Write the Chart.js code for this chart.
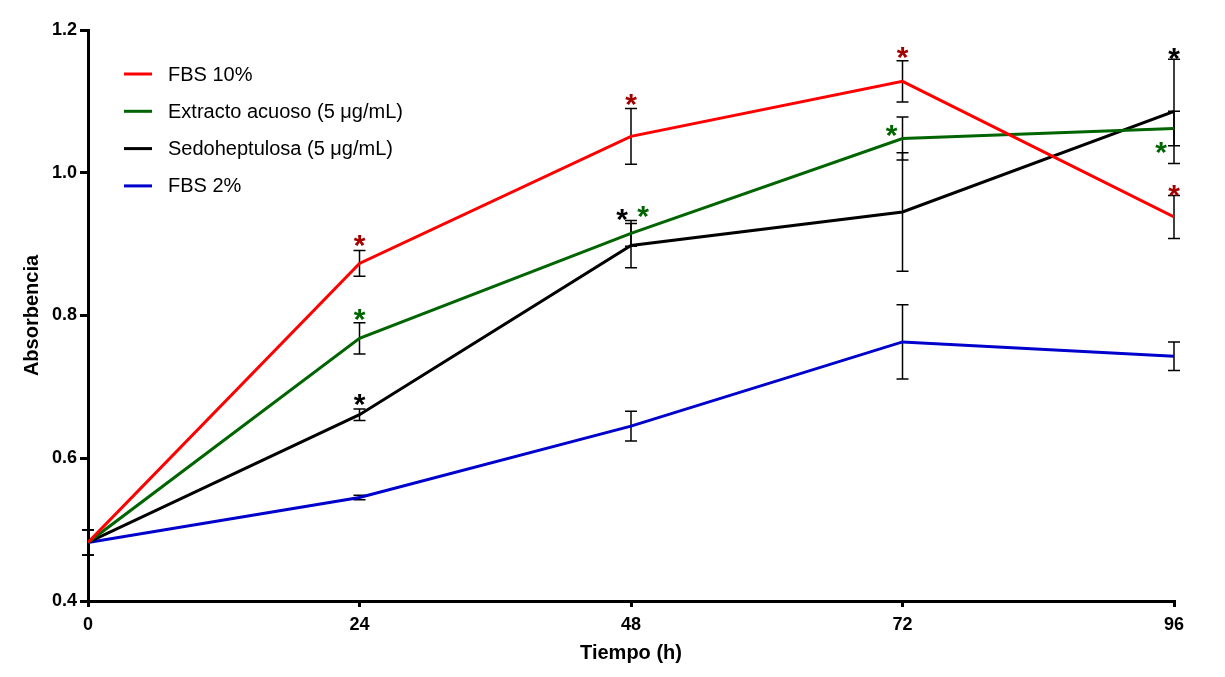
<!DOCTYPE html>
<html>
<head>
<meta charset="utf-8">
<script src="https://cdn.jsdelivr.net/npm/chart.js@4.4.1/dist/chart.umd.min.js"></script>
<style>
  html, body { margin: 0; padding: 0; background: #fff; }
  #wrap { width: 1225px; height: 677px; }
</style>
</head>
<body>
<div id="wrap"><canvas id="growthChart" width="1225" height="677"></canvas></div>
<script>
// Tiempo (h)
const times = [0, 24, 48, 72, 96];
const yTicks = [0.4, 0.6, 0.8, 1.0, 1.2];

// mean absorbance and error for each group
const fbs10 = [0.482, 0.873, 1.051, 1.128, 0.938];
const fbs10Err = [0.018, 0.018, 0.039, 0.029, 0.030];
const extracto = [0.482, 0.768, 0.915, 1.048, 1.062];
const extractoErr = [0.018, 0.022, 0.018, 0.030, 0.024];
const sedo = [0.482, 0.661, 0.898, 0.945, 1.086];
const sedoErr = [0.018, 0.008, 0.031, 0.083, 0.073];
const fbs2 = [0.482, 0.545, 0.645, 0.763, 0.743];
const fbs2Err = [0.018, 0.003, 0.021, 0.052, 0.020];

// significance (*) per time point
const fbs10Sig = [0, 1, 1, 1, 1];
const extractoSig = [0, 1, 1, 1, 1];
const sedoSig = [0, 1, 1, 0, 1];
const fbs2Sig = [0, 0, 0, 0, 0];

const labels = ['FBS 10%', 'Extracto acuoso (5 \u03bcg/mL)', 'Sedoheptulosa (5 \u03bcg/mL)', 'FBS 2%'];

const FONT = "'Liberation Sans', Arial, sans-serif";

function series(label, values, err, sig, color, starColor) {
    return {
        label: label,
        data: times.map((t, i) => ({ x: t, y: values[i] })),
        err: err,
        sig: sig,
        starColor: starColor,
        borderColor: color,
        backgroundColor: color,
        borderWidth: 3,
        pointRadius: 0,
        tension: 0,
        fill: false
    };
}

// where each asterisk sits: relative to the top of the error bar, or to the point
const starPlace = {
    '0-1': { at: 'top', dx: 0, dy: -11 },
    '0-2': { at: 'top', dx: 0, dy: -10 },
    '0-3': { at: 'top', dx: 0, dy: -9 },
    '0-4': { at: 'top', dx: 0, dy: -6 },
    '1-1': { at: 'top', dx: 0, dy: -9 },
    '1-2': { at: 'top', dx: 12, dy: -10 },
    '1-3': { at: 'point', dx: -11, dy: -9 },
    '1-4': { at: 'point', dx: -13, dy: 18 },
    '2-1': { at: 'top', dx: 0, dy: -10 },
    '2-2': { at: 'top', dx: -9, dy: -10 },
    '2-4': { at: 'top', dx: 0, dy: -7 }
};

const errorBars = {
    id: 'errorBars',
    beforeDatasetsDraw(chart) {
        const ctx = chart.ctx;
        const xs = chart.scales.x, ys = chart.scales.y;
        ctx.save();
        ctx.strokeStyle = '#000';
        ctx.lineWidth = 1.5;
        chart.data.datasets.forEach(ds => {
            ds.data.forEach((p, i) => {
                const e = ds.err[i];
                if (!e) return;
                const x = xs.getPixelForValue(p.x);
                const y1 = ys.getPixelForValue(p.y + e);
                const y2 = ys.getPixelForValue(p.y - e);
                ctx.beginPath();
                ctx.moveTo(x, y1); ctx.lineTo(x, y2);
                ctx.moveTo(x - 6, y1); ctx.lineTo(x + 6, y1);
                ctx.moveTo(x - 6, y2); ctx.lineTo(x + 6, y2);
                ctx.stroke();
            });
        });
        ctx.restore();
    },
    afterDatasetsDraw(chart) {
        const ctx = chart.ctx;
        const xs = chart.scales.x, ys = chart.scales.y;
        ctx.save();
        ctx.font = 'bold 30px ' + FONT;
        ctx.textAlign = 'center';
        ctx.textBaseline = 'middle';
        chart.data.datasets.forEach((ds, d) => {
            ds.data.forEach((p, i) => {
                if (!ds.sig[i]) return;
                const place = starPlace[d + '-' + i] || { at: 'top', dx: 0, dy: -9 };
                const x = xs.getPixelForValue(p.x) + place.dx;
                const base = place.at === 'top' ? p.y + ds.err[i] : p.y;
                const y = ys.getPixelForValue(base) + place.dy;
                ctx.fillStyle = ds.starColor;
                ctx.fillText('*', x, y + 7);
            });
        });
        ctx.restore();
    }
};

const insideLegend = {
    id: 'insideLegend',
    afterDraw(chart) {
        const ctx = chart.ctx;
        ctx.save();
        ctx.font = '20px ' + FONT;
        ctx.textBaseline = 'middle';
        chart.data.datasets.forEach((ds, i) => {
            const y = 74 + i * 37.3;
            ctx.strokeStyle = ds.borderColor;
            ctx.lineWidth = 3;
            ctx.beginPath();
            ctx.moveTo(124, y); ctx.lineTo(152, y);
            ctx.stroke();
            ctx.fillStyle = '#000';
            ctx.fillText(ds.label, 168, y + 1);
        });
        ctx.restore();
    }
};

const ctx = document.getElementById('growthChart').getContext('2d');
new Chart(ctx, {
    type: 'line',
    data: {
        datasets: [
            series(labels[0], fbs10, fbs10Err, fbs10Sig, '#ff0000', '#a50000'),
            series(labels[1], extracto, extractoErr, extractoSig, '#006400', '#006400'),
            series(labels[2], sedo, sedoErr, sedoSig, '#000000', '#000000'),
            series(labels[3], fbs2, fbs2Err, fbs2Sig, '#0000cc', '#0000cc')
        ]
    },
    options: {
        responsive: false,
        animation: false,
        layout: { padding: { top: 30, right: 51, left: 0, bottom: 0 } },
        plugins: {
            legend: { display: false },
            tooltip: { enabled: false }
        },
        scales: {
            x: {
                type: 'linear',
                min: 0,
                max: 96,
                afterFit: s => { s.height = 76; },
                afterBuildTicks: s => { s.ticks = times.map(v => ({ value: v })); },
                border: { color: '#000', width: 3 },
                grid: { drawOnChartArea: false, drawTicks: true, tickLength: 6, color: '#000', lineWidth: 3 },
                ticks: { color: '#000', padding: 7, font: { family: FONT, size: 18, weight: 'bold' } },
                title: { display: true, text: 'Tiempo (h)', color: '#000', padding: { top: 0, bottom: 12 }, font: { family: FONT, size: 20, weight: 'bold' } }
            },
            y: {
                min: 0.4,
                max: 1.2,
                afterFit: s => { s.width = 88; },
                afterBuildTicks: s => { s.ticks = yTicks.map(v => ({ value: v })); },
                border: { color: '#000', width: 3 },
                grid: { drawOnChartArea: false, drawTicks: true, tickLength: 8, color: '#000', lineWidth: 3 },
                ticks: { color: '#000', padding: 3, font: { family: FONT, size: 18, weight: 'bold' }, callback: v => v.toFixed(1) },
                title: { display: true, text: 'Absorbencia', color: '#000', padding: { top: 20, bottom: 0 }, font: { family: FONT, size: 20, weight: 'bold' } }
            }
        }
    },
    plugins: [errorBars, insideLegend]
});
</script>
</body>
</html>
